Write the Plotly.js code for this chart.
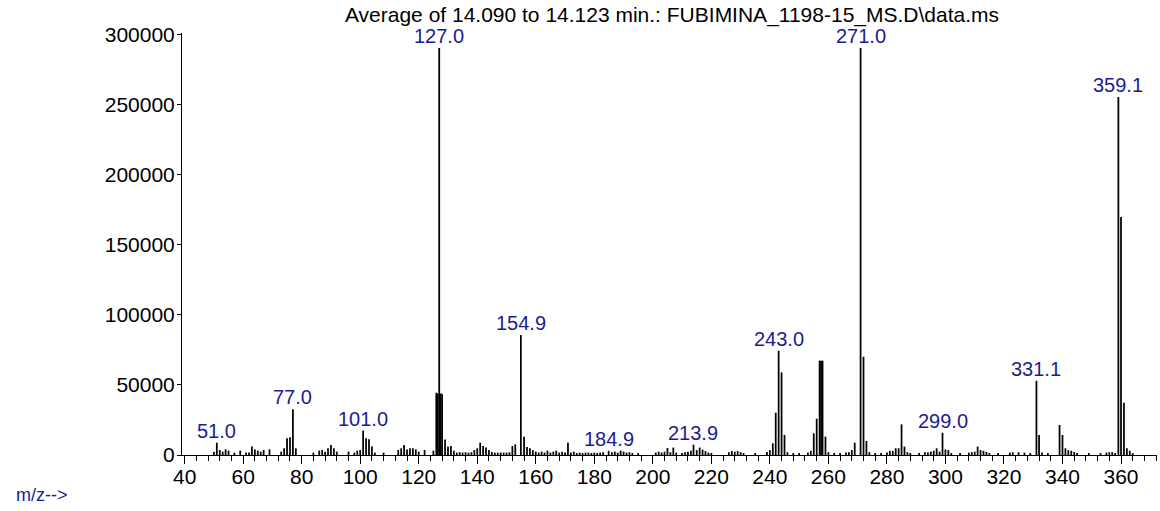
<!DOCTYPE html>
<html>
<head>
<meta charset="utf-8">
<script src="https://cdn.plot.ly/plotly-3.0.1.min.js"></script>
<style>html,body{margin:0;padding:0;background:#fff;}#chart{width:1160px;height:511px;}</style>
</head>
<body>
<div id="chart"></div>
<script>
// m/z values (abundance spectrum)
const mz = [
  50, 51, 52, 53, 54, 55, 57, 59, 61, 62, 63, 64, 65, 66, 67, 69,
  73, 74, 75, 76, 77, 78, 84, 86, 87, 88, 89, 90, 91, 92,
  96, 98, 99, 100, 101, 102, 103, 104, 105, 108,
  113, 114, 115, 116, 117, 118, 119, 120, 122, 125,
  126, 126.5, 127, 127.5, 128, 129, 130, 131, 132, 133, 134, 135, 136, 137, 138, 139,
  140, 141, 142, 143, 144, 145, 146, 147, 148, 149, 150, 151, 152, 153, 154.9,
  156, 157, 158, 159, 160, 161, 162, 163, 164, 165, 166, 167, 168, 169, 170,
  171, 172, 173, 174, 175, 176, 177, 178, 179, 180, 181, 182, 183, 184.9,
  186, 187, 188, 189, 190, 191, 192, 193, 195,
  201, 202, 203, 204, 205, 206, 207, 208, 210, 211, 212, 213, 213.9, 215, 216, 217, 218, 219, 220,
  226, 227, 228, 229, 230, 231, 235, 239, 240, 241, 242, 243, 244, 245, 246, 248, 250,
  253, 254, 255, 256, 257, 257.5, 258, 259, 260, 262, 264, 266, 267, 268, 269, 271, 272, 273, 274,
  276, 278, 280, 281, 282, 283, 284, 285, 286, 287, 288, 291, 293, 294, 295, 296, 297, 298, 299,
  300, 301, 302, 305, 308, 309, 310, 311, 312, 313, 314, 315, 318, 322, 323, 325, 327, 329,
  331.1, 332, 333, 335, 339, 340, 341, 342, 343, 344, 345, 349, 353, 355, 356, 357, 358,
  359.1, 360, 361, 362, 363, 364
];
const abundance = [
  2400, 8800, 3600, 2400, 4000, 3100, 1700, 3100, 1700, 1700, 6000, 4000, 3100, 2400, 3600, 4000,
  2400, 4800, 11900, 12600, 32600, 4800, 1700, 3100, 3600, 2400, 4800, 7100, 4800, 2400,
  2400, 1700, 3100, 3600, 17400, 11900, 11200, 6000, 1700, 1700,
  3600, 4800, 7100, 4000, 4800, 4800, 4000, 2400, 3600, 3100,
  44500, 44000, 290700, 44000, 43500, 11000, 6000, 6500, 3000, 1700, 2000, 1700, 2000, 1700, 2000, 3500,
  4800, 8800, 6400, 5300, 3500, 2200, 1700, 1700, 1700, 1700, 1700, 2000, 6400, 7600, 85700,
  13100, 5700, 4800, 3500, 2400, 1700, 2400, 1700, 3100, 1700, 2400, 3100, 1700, 2400, 1700,
  8800, 1700, 2400, 1400, 1700, 1400, 1700, 1700, 1400, 1700, 1400, 1700, 2000, 3000,
  2000, 2400, 1700, 3100, 2400, 1700, 2000, 1400, 1400,
  1700, 2400, 1700, 2400, 5000, 2000, 5300, 1700, 1400, 2000, 2400, 3100, 7400, 3500, 5300, 3900, 2800, 1700, 1400,
  2000, 2800, 2400, 2800, 2000, 1400, 1400, 2200, 3500, 8300, 30200, 74500, 59000, 14300, 2000, 1400, 1400,
  1700, 3000, 15500, 25900, 67400, 67400, 67400, 13100, 2000, 1400, 1400, 1700, 2000, 3500, 8800, 290700, 70200, 10000, 2000,
  1400, 1400, 1700, 3000, 3000, 4800, 4800, 21900, 6000, 2000, 1400, 1400, 2000, 2000, 2400, 3000, 4800, 2400, 15900,
  4000, 3500, 1400, 1400, 1700, 2000, 2400, 6000, 3500, 3000, 2200, 1400, 1400, 1700, 2000, 2000, 1700, 1400,
  53000, 14300, 1700, 1400, 21400, 14300, 4800, 3500, 3000, 2200, 1400, 1400, 1400, 1700, 2000, 2000, 1400,
  255700, 170000, 37400, 4800, 3000, 1400
];
// peaks that carry an m/z label
const labeledPeaks = [51, 77, 101, 127, 154.9, 184.9, 213.9, 243, 271, 299, 331.1, 359.1];

const titleText = 'Average of 14.090 to 14.123 min.: FUBIMINA_1198-15_MS.D\\data.ms';
const xAxisNote = 'm/z-->';

const W = 1160, H = 511;
const margin = {l: 182, r: 3, t: 33, b: 56};
const plotW = W - margin.l - margin.r, plotH = H - margin.t - margin.b;
const blue = '#1c1c92';
const fontFam = '"Liberation Sans", Arial, sans-serif';

const annotations = labeledPeaks.map(m => ({
  x: m, y: abundance[mz.indexOf(m)], xref: 'x', yref: 'y',
  text: m.toFixed(1), showarrow: false, xanchor: 'center', yanchor: 'bottom',
  yshift: -1, font: {family: fontFam, size: 20, color: blue}
}));
annotations.push({
  xref: 'paper', yref: 'paper', x: (14 - margin.l) / plotW, y: -(495 - (H - margin.b)) / plotH,
  xanchor: 'left', yanchor: 'middle', text: xAxisNote, showarrow: false,
  font: {family: fontFam, size: 18, color: blue}
});

const trace = {
  type: 'bar', x: mz, y: abundance, width: 0.6,
  marker: {color: '#000', line: {width: 0}}, hoverinfo: 'x+y'
};

const layout = {
  width: W, height: H, margin: margin,
  paper_bgcolor: '#fff', plot_bgcolor: '#fff', showlegend: false,
  font: {family: fontFam, color: '#000'},
  title: {text: titleText, x: 672 / W, xanchor: 'center', y: 1 - 15 / H, yanchor: 'middle', yref: 'container',
    font: {family: fontFam, size: 21, color: '#000'}},
  xaxis: {
    range: [39.1, 372.3], tick0: 40, dtick: 20, ticks: 'outside', ticklen: 8, tickwidth: 1, tickcolor: '#000',
    ticklabelstandoff: -5,
    showline: true, linecolor: '#000', linewidth: 1, showgrid: false, zeroline: false,
    tickfont: {family: fontFam, size: 21, color: '#000'},
    minor: {tick0: 40, dtick: 4, ticks: 'outside', ticklen: 5, tickwidth: 1, tickcolor: '#000', showgrid: false}
  },
  yaxis: {
    range: [0, 301400], tick0: 0, dtick: 50000, tickformat: 'd', ticks: 'outside', ticklen: 4, tickwidth: 1,
    ticklabelstandoff: -2,
    tickcolor: '#000', showline: true, linecolor: '#000', linewidth: 1, showgrid: false, zeroline: false,
    tickfont: {family: fontFam, size: 21, color: '#000'}
  },
  annotations: annotations
};

Plotly.newPlot('chart', [trace], layout, {displayModeBar: false, staticPlot: true});
</script>
</body>
</html>
